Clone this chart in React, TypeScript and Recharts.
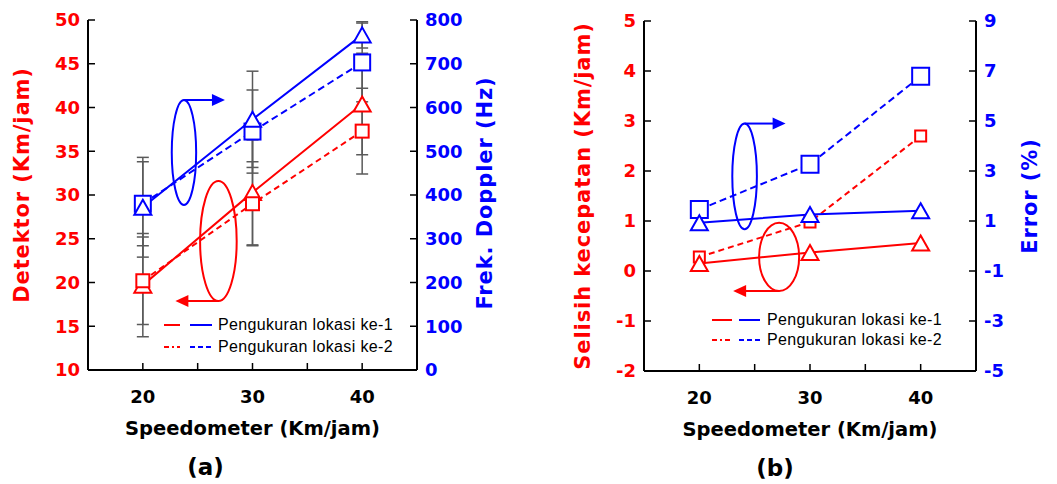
import React from 'react';
import { LineChart, Line, XAxis, YAxis, ErrorBar, ReferenceDot, Legend } from 'recharts';

// ---------- shared ----------
const speedometer = [20, 30, 40];
const xTicks = [20, 25, 30, 35, 40];
const legendLabels = ['Pengukuran lokasi ke-1', 'Pengukuran lokasi ke-2'];

// ---------- chart (a) ----------
const detektorLokasi1 = [19.7, 30.3, 40.4];
const detektorLokasi2 = [20.2, 29.0, 37.3];
const detektorErr1 = [5.9, 6.0, 5.8];
const detektorErr2 = [5.0, 4.8, 4.9];
const dopplerLokasi1 = [372, 573, 766];
const dopplerLokasi2 = [380, 545, 703];
const dopplerErr1 = [114, 110, 30];
const dopplerErr2 = [96, 95, 90];
const detektorTicks = [10, 15, 20, 25, 30, 35, 40, 45, 50];
const dopplerTicks = [0, 100, 200, 300, 400, 500, 600, 700, 800];

// ---------- chart (b) ----------
const selisihLokasi1 = [0.15, 0.37, 0.56];
const selisihLokasi2 = [0.28, 0.98, 2.7];
const errorLokasi1 = [0.93, 1.26, 1.41];
const errorLokasi2 = [1.46, 3.27, 6.79];
const selisihTicks = [-2, -1, 0, 1, 2, 3, 4, 5];
const errorTicks = [-5, -3, -1, 1, 3, 5, 7, 9];

const RED = '#FF0000';
const BLUE = '#0000FF';
const AXIS = '#000000';
const ERR = '#5a5a5a';
const FONT = '"DejaVu Sans", Verdana, sans-serif';
const LFONT = '"Liberation Sans", Arial, sans-serif';

const dataA = speedometer.map((x, i) => ({
  x,
  det1: detektorLokasi1[i],
  det2: detektorLokasi2[i],
  detE1: detektorErr1[i],
  detE2: detektorErr2[i],
  dop1: dopplerLokasi1[i],
  dop2: dopplerLokasi2[i],
  dopE1: dopplerErr1[i],
  dopE2: dopplerErr2[i],
}));

const dataB = speedometer.map((x, i) => ({
  x,
  sel1: selisihLokasi1[i],
  sel2: selisihLokasi2[i],
  err1: errorLokasi1[i],
  err2: errorLokasi2[i],
}));

const squareDot = (size: number, color: string) => (p: any) => {
  const { cx, cy, index } = p;
  if (cx == null || cy == null) return <g key={`s${index}`} />;
  return (
    <rect key={`s${index}`} x={cx - size / 2} y={cy - size / 2} width={size} height={size}
      fill="#fff" stroke={color} strokeWidth={2} />
  );
};

const triDot = (w: number, h: number, color: string) => (p: any) => {
  const { cx, cy, index } = p;
  if (cx == null || cy == null) return <g key={`t${index}`} />;
  return (
    <polygon key={`t${index}`}
      points={`${cx},${cy - h / 2} ${cx + w / 2},${cy + h / 2} ${cx - w / 2},${cy + h / 2}`}
      fill="#fff" stroke={color} strokeWidth={2} strokeLinejoin="miter" />
  );
};

const ellipseMark = (rx: number, ry: number, color: string, toRight: boolean, len: number) => (p: any) => {
  const { cx, cy } = p;
  if (cx == null || cy == null) return <g />;
  const ay = toRight ? cy - ry : cy + ry;
  const s = toRight ? 1 : -1;
  const tip = cx + s * len;
  return (
    <g>
      <ellipse cx={cx} cy={cy} rx={rx} ry={ry} fill="none" stroke={color} strokeWidth={2} />
      <line x1={cx} y1={ay} x2={tip - s * 11} y2={ay} stroke={color} strokeWidth={2} />
      <polygon points={`${tip},${ay} ${tip - s * 13},${ay - 6} ${tip - s * 13},${ay + 6}`} fill={color} />
    </g>
  );
};

const yTitle = (text: string, color: string, offX: number, offY: number = 0) => (p: any) => {
  const { viewBox } = p;
  const x = viewBox.x + offX;
  const y = viewBox.y + viewBox.height / 2 + offY;
  return (
    <text x={x} y={y} transform={`rotate(-90 ${x} ${y})`} textAnchor="middle" dominantBaseline="central"
      fill={color} fontFamily={FONT} fontWeight="bold" fontSize={21} letterSpacing={0.9}>{text}</text>
  );
};

const xTitle = (sub: string, subDx: number) => (p: any) => {
  const { viewBox } = p;
  const c = viewBox.x + viewBox.width / 2;
  return (
    <g>
      <text x={c} y={viewBox.y + 58} textAnchor="middle" dominantBaseline="central"
        fill="#000" fontFamily={FONT} fontWeight="bold" fontSize={19.5}>Speedometer (Km/jam)</text>
      <text x={c + subDx} y={viewBox.y + 97} textAnchor="middle" dominantBaseline="central"
        fill="#000" fontFamily={FONT} fontWeight="bold" fontSize={23}>{`(${sub})`}</text>
    </g>
  );
};

const legendContent = (rowH: number, redW: number, blueX: number, blueW: number, svgW: number) => () => (
  <div style={{ fontFamily: LFONT, fontSize: 16, color: '#000', letterSpacing: 0.35 }}>
    {legendLabels.map((label, i) => (
      <div key={label} style={{ display: 'flex', alignItems: 'center', height: rowH, whiteSpace: 'nowrap' }}>
        <svg width={svgW} height={10} style={{ display: 'block' }}>
          <line x1={0} y1={5} x2={redW} y2={5} stroke={RED} strokeWidth={2}
            strokeDasharray={i === 0 ? undefined : '5 3 2 3'} />
          <line x1={blueX} y1={5} x2={blueX + blueW} y2={5} stroke={BLUE} strokeWidth={2}
            strokeDasharray={i === 0 ? undefined : '5 3'} />
        </svg>
        <span>{label}</span>
      </div>
    ))}
  </div>
);

const xTickFmt = (v: number) => (v % 10 === 0 ? String(v) : '');
const tickFont = (color: string) => ({ fill: color, fontSize: 18, fontWeight: 'bold', fontFamily: FONT });
const axisLine = { stroke: AXIS, strokeWidth: 2 };
const tickLine = { stroke: AXIS, strokeWidth: 1.5 };

function ChartA() {
  return (
    <LineChart width={528} height={484} data={dataA} margin={{ top: 20, right: 0, bottom: 0, left: 0 }}>
      <XAxis dataKey="x" type="number" domain={[15, 45]} ticks={xTicks} tickFormatter={xTickFmt}
        allowDataOverflow height={114} tickSize={-7} tickMargin={27} axisLine={axisLine} tickLine={tickLine}
        tick={tickFont('#000')} label={xTitle('a', -47)} interval={0} />
      <XAxis xAxisId="top" orientation="top" dataKey="x" type="number" domain={[15, 45]} height={0}
        tick={false} tickLine={false} axisLine={axisLine} />
      <YAxis yAxisId="left" domain={[10, 50]} ticks={detektorTicks} allowDataOverflow width={88}
        tickSize={-7} tickMargin={15} axisLine={axisLine} tickLine={tickLine} tick={tickFont(RED)}
        interval={0} label={yTitle('Detektor (Km/jam)', RED, 22, -10)} />
      <YAxis yAxisId="right" orientation="right" domain={[0, 800]} ticks={dopplerTicks} allowDataOverflow
        width={111} tickSize={-7} tickMargin={15} axisLine={axisLine} tickLine={tickLine}
        tick={{ ...tickFont(BLUE), textAnchor: 'start' }} interval={0}
        label={yTitle('Frek. Doppler (Hz)', BLUE, 68, -2)} />
      <Line yAxisId="left" dataKey="det1" stroke={RED} strokeWidth={2} dot={triDot(17, 15, RED)}
        isAnimationActive={false} legendType="none">
        <ErrorBar dataKey="detE1" width={6} stroke={ERR} strokeWidth={1.5} direction="y" />
      </Line>
      <Line yAxisId="left" dataKey="det2" stroke={RED} strokeWidth={2} strokeDasharray="6 4"
        dot={squareDot(13, RED)} isAnimationActive={false} legendType="none">
        <ErrorBar dataKey="detE2" width={6} stroke={ERR} strokeWidth={1.5} direction="y" />
      </Line>
      <Line yAxisId="right" dataKey="dop2" stroke={BLUE} strokeWidth={2} strokeDasharray="7 4"
        dot={squareDot(16, BLUE)} isAnimationActive={false} legendType="none">
        <ErrorBar dataKey="dopE2" width={6} stroke={ERR} strokeWidth={1.5} direction="y" />
      </Line>
      <Line yAxisId="right" dataKey="dop1" stroke={BLUE} strokeWidth={2} dot={triDot(17, 15, BLUE)}
        isAnimationActive={false} legendType="none">
        <ErrorBar dataKey="dopE1" width={6} stroke={ERR} strokeWidth={1.5} direction="y" />
      </Line>
      <ReferenceDot yAxisId="left" x={23.75} y={34.86} r={1} ifOverflow="visible"
        shape={ellipseMark(12.2, 52.5, BLUE, true, 41)} />
      <ReferenceDot yAxisId="left" x={26.89} y={24.74} r={1} ifOverflow="visible"
        shape={ellipseMark(18.3, 60, RED, false, 43)} />
      <Legend verticalAlign="middle" align="center" layout="horizontal"
        wrapperStyle={{ left: 164, top: 314, width: 260, height: 44 }}
        content={legendContent(22, 16, 26, 22, 54)} />
    </LineChart>
  );
}

function ChartB() {
  return (
    <LineChart width={529} height={484} data={dataB} margin={{ top: 21, right: 0, bottom: 0, left: 0 }}>
      <XAxis dataKey="x" type="number" domain={[15, 45]} ticks={xTicks} tickFormatter={xTickFmt}
        allowDataOverflow height={113} tickSize={-7} tickMargin={27} axisLine={axisLine} tickLine={tickLine}
        tick={tickFont('#000')} label={xTitle('b', -35)} interval={0} />
      <XAxis xAxisId="top" orientation="top" dataKey="x" type="number" domain={[15, 45]} height={0}
        tick={false} tickLine={false} axisLine={axisLine} />
      <YAxis yAxisId="left" domain={[-2, 5]} ticks={selisihTicks} allowDataOverflow width={116}
        tickSize={-7} tickMargin={15} axisLine={axisLine} tickLine={tickLine} tick={tickFont(RED)}
        interval={0} label={yTitle('Selisih kecepatan (Km/jam)', RED, 55)} />
      <YAxis yAxisId="right" orientation="right" domain={[-5, 9]} ticks={errorTicks} allowDataOverflow
        width={81} tickSize={-7} tickMargin={15} axisLine={axisLine} tickLine={tickLine}
        tick={{ ...tickFont(BLUE), textAnchor: 'start' }} interval={0}
        label={yTitle('Error (%)', BLUE, 54)} />
      <Line yAxisId="left" dataKey="sel2" stroke={RED} strokeWidth={2} strokeDasharray="6 4"
        dot={squareDot(11, RED)} isAnimationActive={false} legendType="none" />
      <Line yAxisId="left" dataKey="sel1" stroke={RED} strokeWidth={2} dot={triDot(17, 15, RED)}
        isAnimationActive={false} legendType="none" />
      <Line yAxisId="right" dataKey="err2" stroke={BLUE} strokeWidth={2} strokeDasharray="7 4"
        dot={squareDot(17, BLUE)} isAnimationActive={false} legendType="none" />
      <Line yAxisId="right" dataKey="err1" stroke={BLUE} strokeWidth={2} dot={triDot(17, 15, BLUE)}
        isAnimationActive={false} legendType="none" />
      <ReferenceDot yAxisId="left" x={24.09} y={1.893} r={1} ifOverflow="visible"
        shape={ellipseMark(12.3, 52.8, BLUE, true, 41)} />
      <ReferenceDot yAxisId="left" x={27.21} y={0.282} r={1} ifOverflow="visible"
        shape={ellipseMark(20, 34.2, RED, false, 46)} />
      <Legend verticalAlign="middle" align="center" layout="horizontal"
        wrapperStyle={{ left: 184, top: 310, width: 260, height: 40 }}
        content={legendContent(20, 20, 27, 21, 55)} />
    </LineChart>
  );
}

export default function App() {
  return (
    <div style={{ position: 'absolute', left: 0, top: 0, width: 1057, height: 484, background: '#fff' }}>
      <div style={{ position: 'absolute', left: 0, top: 0 }}>
        <ChartA />
      </div>
      <div style={{ position: 'absolute', left: 528, top: 0 }}>
        <ChartB />
      </div>
    </div>
  );
}
